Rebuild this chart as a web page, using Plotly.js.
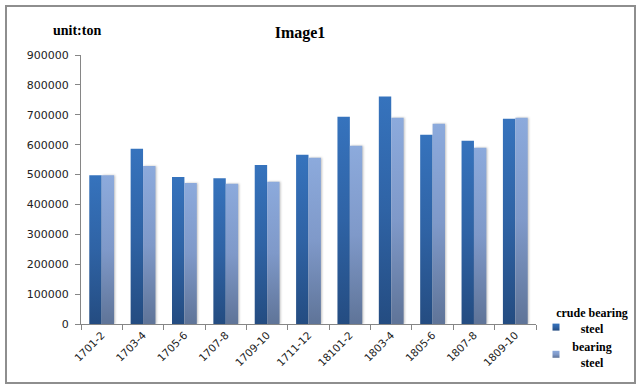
<!DOCTYPE html>
<html>
<head>
<meta charset="utf-8">
<script src="https://cdn.plot.ly/plotly-3.0.1.min.js"></script>
<style>
html,body{margin:0;padding:0;background:#fff;}
#wrap{position:relative;width:641px;height:390px;}
#chart{width:641px;height:390px;}
#frame{position:absolute;left:5px;top:5px;width:631px;height:379px;box-sizing:border-box;border:2px solid #8e8e8e;pointer-events:none;}
</style>
</head>
<body>
<div id="wrap"><div id="chart"></div><div id="frame"></div></div>
<script>
var categories = ['1701-2','1703-4','1705-6','1707-8','1709-10','1711-12','18101-2','1803-4','1805-6','1807-8','1809-10'];
var crudeBearingSteel = [498000, 586000, 492000, 488000, 532000, 566000, 693000, 761000, 633000, 613000, 687000];
var bearingSteel      = [498000, 529000, 472000, 469000, 476000, 556000, 596000, 690000, 670000, 590000, 690000];
var seriesNames = ['crude bearing<br>steel', 'bearing<br>steel'];
var yTicks = [0,100000,200000,300000,400000,500000,600000,700000,800000,900000];

var serif = 'Liberation Serif';
var sans = 'DejaVu Sans';

var data = [
  {type:'bar', x:categories, y:crudeBearingSteel, name:seriesNames[0],
   marker:{color:'#2f62a3', line:{width:0}}},
  {type:'bar', x:categories, y:bearingSteel, name:seriesNames[1],
   marker:{color:'#7a93c2', line:{width:0}}}
];

var layout = {
  width:641, height:390,
  margin:{l:81, r:96, t:55, b:66},
  paper_bgcolor:'#fff', plot_bgcolor:'#fff',
  barmode:'group', bargap:0.4, bargroupgap:0,
  title:{text:'Image1', font:{family:serif, size:16, color:'#000', weight:'bold'},
         xref:'container', yref:'container', x:300/641, xanchor:'center', y:1-32/390, yanchor:'middle'},
  xaxis:{type:'category', showgrid:false, showline:true, linecolor:'#868686', linewidth:1,
         ticks:'outside', ticklen:5, tickcolor:'#868686', tickson:'boundaries',
         tickangle:-45, tickfont:{family:sans, size:10.5, color:'#222'}},
  yaxis:{range:[0,900000], tickvals:yTicks, ticktext:yTicks.map(String), showgrid:false, zeroline:false,
         showline:true, linecolor:'#868686', linewidth:1, ticks:'outside', ticklen:5, tickcolor:'#868686',
         tickfont:{family:sans, size:11, color:'#222'}, ticklabelstandoff:4},
  showlegend:true,
  legend:{xref:'container', yref:'container', x:536/641, xanchor:'left', y:1-298/390, yanchor:'top',
          font:{family:serif, size:12, color:'#000', weight:'bold'}, bgcolor:'rgba(0,0,0,0)', borderwidth:0,
          valign:'middle', itemwidth:30, traceorder:'normal'},
  annotations:[{text:'unit:ton', xref:'paper', yref:'paper', x:(77-81)/464, y:(390-66-31)/269,
                xanchor:'center', yanchor:'middle', showarrow:false,
                font:{family:serif, size:14, color:'#000', weight:'bold'}}]
};

Plotly.newPlot('chart', data, layout, {displayModeBar:false, staticPlot:true}).then(function(gd){
  var ns='http://www.w3.org/2000/svg';
  var svg = gd.querySelector('svg.main-svg');
  var defs = svg.querySelector('defs');
  if(!defs){defs=document.createElementNS(ns,'defs');svg.insertBefore(defs,svg.firstChild);}
  function grad(id, top, mid, bottom){
    var g=document.createElementNS(ns,'linearGradient');
    g.setAttribute('id',id);g.setAttribute('x1','0');g.setAttribute('y1','0');g.setAttribute('x2','0');g.setAttribute('y2','1');
    [[0,top],[0.5,mid],[1,bottom]].forEach(function(s){
      var st=document.createElementNS(ns,'stop');st.setAttribute('offset',s[0]);st.setAttribute('stop-color',s[1]);g.appendChild(st);
    });
    defs.appendChild(g);
  }
  grad('gbar0','#3673bd','#2f63a5','#244c81');
  grad('gbar1','#8caadc','#7f99c9','#5f7498');
  var traces = gd.querySelectorAll('.barlayer .trace');
  traces.forEach(function(t,i){
    t.querySelectorAll('path').forEach(function(p){
      p.style.fill='url(#gbar'+i+')';
      if(i===1){p.style.filter='drop-shadow(1.5px 0px 1px rgba(0,0,0,0.25))';}
    });
  });
  var items = gd.querySelectorAll('.legend .traces');
  items.forEach(function(it,i){
    it.querySelectorAll('.legendpoints path').forEach(function(p){
      p.setAttribute('d', i===0 ? 'M3.5,10.5H-3.5V3.5H3.5Z' : 'M3.5,3.5H-3.5V-3.5H3.5Z');
      p.style.fill='url(#gbar'+i+')';
    });
    var txt = it.querySelector('text.legendtext');
    if(txt){
      txt.setAttribute('text-anchor','middle');
      txt.setAttribute('x','56');
      txt.querySelectorAll('tspan.line').forEach(function(ts){ts.setAttribute('x','56');});
    }
  });
});
</script>
</body>
</html>
